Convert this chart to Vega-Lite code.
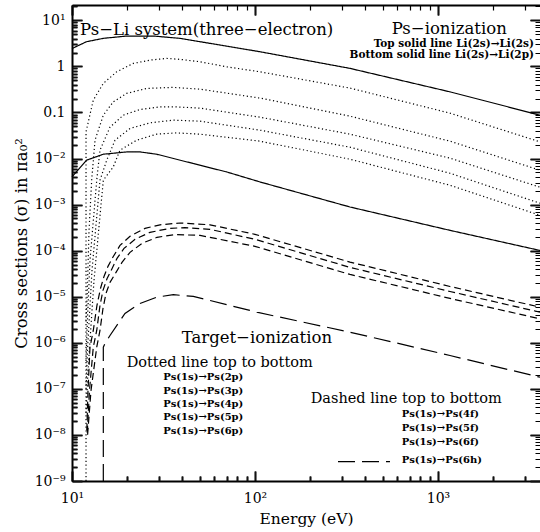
{
  "$schema": "https://vega.github.io/schema/vega-lite/v6.json",
  "width": 468,
  "height": 476,
  "autosize": {"type": "none"},
  "padding": {"left": 72, "top": 5, "right": 0, "bottom": 51},
  "background": "white",
  "config": {"view": {"stroke": null}},
  "datasets": {
    "curves": [
      {"series": "Li(2s)→Li(2s)", "family": "Ps-ionization", "i": 0, "E": 10, "sigma": 2.44},
      {"series": "Li(2s)→Li(2s)", "family": "Ps-ionization", "i": 1, "E": 12.0, "sigma": 3.43},
      {"series": "Li(2s)→Li(2s)", "family": "Ps-ionization", "i": 2, "E": 14.83, "sigma": 4.06},
      {"series": "Li(2s)→Li(2s)", "family": "Ps-ionization", "i": 3, "E": 19.9, "sigma": 4.56},
      {"series": "Li(2s)→Li(2s)", "family": "Ps-ionization", "i": 4, "E": 27.82, "sigma": 4.56},
      {"series": "Li(2s)→Li(2s)", "family": "Ps-ionization", "i": 5, "E": 38.92, "sigma": 4.06},
      {"series": "Li(2s)→Li(2s)", "family": "Ps-ionization", "i": 6, "E": 56.77, "sigma": 3.16},
      {"series": "Li(2s)→Li(2s)", "family": "Ps-ionization", "i": 7, "E": 106.5, "sigma": 2.08},
      {"series": "Li(2s)→Li(2s)", "family": "Ps-ionization", "i": 8, "E": 330.4, "sigma": 0.905},
      {"series": "Li(2s)→Li(2s)", "family": "Ps-ionization", "i": 9, "E": 1163, "sigma": 0.28},
      {"series": "Li(2s)→Li(2s)", "family": "Ps-ionization", "i": 10, "E": 3610, "sigma": 0.0873},

      {"series": "Li(2s)→Li(2p)", "family": "Ps-ionization", "i": 0, "E": 10, "sigma": 0.00398},
      {"series": "Li(2s)→Li(2p)", "family": "Ps-ionization", "i": 1, "E": 12.0, "sigma": 0.00918},
      {"series": "Li(2s)→Li(2p)", "family": "Ps-ionization", "i": 2, "E": 14.83, "sigma": 0.0124},
      {"series": "Li(2s)→Li(2p)", "family": "Ps-ionization", "i": 3, "E": 19.9, "sigma": 0.0139},
      {"series": "Li(2s)→Li(2p)", "family": "Ps-ionization", "i": 4, "E": 23.53, "sigma": 0.0139},
      {"series": "Li(2s)→Li(2p)", "family": "Ps-ionization", "i": 5, "E": 29.04, "sigma": 0.0124},
      {"series": "Li(2s)→Li(2p)", "family": "Ps-ionization", "i": 6, "E": 46.01, "sigma": 0.00778},
      {"series": "Li(2s)→Li(2p)", "family": "Ps-ionization", "i": 7, "E": 70.04, "sigma": 0.00511},
      {"series": "Li(2s)→Li(2p)", "family": "Ps-ionization", "i": 8, "E": 106.5, "sigma": 0.0031},
      {"series": "Li(2s)→Li(2p)", "family": "Ps-ionization", "i": 9, "E": 330.4, "sigma": 0.000887},
      {"series": "Li(2s)→Li(2p)", "family": "Ps-ionization", "i": 10, "E": 1163, "sigma": 0.000276},
      {"series": "Li(2s)→Li(2p)", "family": "Ps-ionization", "i": 11, "E": 3610, "sigma": 0.000101},

      {"series": "Ps(1s)→Ps(2p)", "family": "np", "i": 0, "E": 11.93, "sigma": 1e-9},
      {"series": "Ps(1s)→Ps(2p)", "family": "np", "i": 1, "E": 11.93, "sigma": 0.0379},
      {"series": "Ps(1s)→Ps(2p)", "family": "np", "i": 2, "E": 13.07, "sigma": 0.185},
      {"series": "Ps(1s)→Ps(2p)", "family": "np", "i": 3, "E": 14.83, "sigma": 0.427},
      {"series": "Ps(1s)→Ps(2p)", "family": "np", "i": 4, "E": 17.55, "sigma": 0.763},
      {"series": "Ps(1s)→Ps(2p)", "family": "np", "i": 5, "E": 21.63, "sigma": 1.16},
      {"series": "Ps(1s)→Ps(2p)", "family": "np", "i": 6, "E": 26.69, "sigma": 1.37},
      {"series": "Ps(1s)→Ps(2p)", "family": "np", "i": 7, "E": 32.93, "sigma": 1.49},
      {"series": "Ps(1s)→Ps(2p)", "family": "np", "i": 8, "E": 38.92, "sigma": 1.42},
      {"series": "Ps(1s)→Ps(2p)", "family": "np", "i": 9, "E": 50.06, "sigma": 1.26},
      {"series": "Ps(1s)→Ps(2p)", "family": "np", "i": 10, "E": 70.04, "sigma": 0.98},
      {"series": "Ps(1s)→Ps(2p)", "family": "np", "i": 11, "E": 106.5, "sigma": 0.763},
      {"series": "Ps(1s)→Ps(2p)", "family": "np", "i": 12, "E": 330.4, "sigma": 0.338},
      {"series": "Ps(1s)→Ps(2p)", "family": "np", "i": 13, "E": 1163, "sigma": 0.0965},
      {"series": "Ps(1s)→Ps(2p)", "family": "np", "i": 14, "E": 3610, "sigma": 0.023},

      {"series": "Ps(1s)→Ps(3p)", "family": "np", "i": 0, "E": 11.93, "sigma": 3e-6},
      {"series": "Ps(1s)→Ps(3p)", "family": "np", "i": 1, "E": 12.08, "sigma": 8.31e-6},
      {"series": "Ps(1s)→Ps(3p)", "family": "np", "i": 2, "E": 12.39, "sigma": 0.000276},
      {"series": "Ps(1s)→Ps(3p)", "family": "np", "i": 3, "E": 12.81, "sigma": 0.00338},
      {"series": "Ps(1s)→Ps(3p)", "family": "np", "i": 4, "E": 13.36, "sigma": 0.025},
      {"series": "Ps(1s)→Ps(3p)", "family": "np", "i": 5, "E": 14.83, "sigma": 0.0873},
      {"series": "Ps(1s)→Ps(3p)", "family": "np", "i": 6, "E": 16.81, "sigma": 0.170},
      {"series": "Ps(1s)→Ps(3p)", "family": "np", "i": 7, "E": 19.90, "sigma": 0.259},
      {"series": "Ps(1s)→Ps(3p)", "family": "np", "i": 8, "E": 25.60, "sigma": 0.332},
      {"series": "Ps(1s)→Ps(3p)", "family": "np", "i": 9, "E": 35.80, "sigma": 0.350},
      {"series": "Ps(1s)→Ps(3p)", "family": "np", "i": 10, "E": 50.06, "sigma": 0.321},
      {"series": "Ps(1s)→Ps(3p)", "family": "np", "i": 11, "E": 106.5, "sigma": 0.205},
      {"series": "Ps(1s)→Ps(3p)", "family": "np", "i": 12, "E": 330.4, "sigma": 0.0831},
      {"series": "Ps(1s)→Ps(3p)", "family": "np", "i": 13, "E": 1163, "sigma": 0.0238},
      {"series": "Ps(1s)→Ps(3p)", "family": "np", "i": 14, "E": 3610, "sigma": 0.00557},

      {"series": "Ps(1s)→Ps(4p)", "family": "np", "i": 0, "E": 11.93, "sigma": 4e-7},
      {"series": "Ps(1s)→Ps(4p)", "family": "np", "i": 1, "E": 12.08, "sigma": 1.85e-6},
      {"series": "Ps(1s)→Ps(4p)", "family": "np", "i": 2, "E": 12.54, "sigma": 6.15e-5},
      {"series": "Ps(1s)→Ps(4p)", "family": "np", "i": 3, "E": 13.65, "sigma": 0.00338},
      {"series": "Ps(1s)→Ps(4p)", "family": "np", "i": 4, "E": 14.22, "sigma": 0.0152},
      {"series": "Ps(1s)→Ps(4p)", "family": "np", "i": 5, "E": 16.13, "sigma": 0.0479},
      {"series": "Ps(1s)→Ps(4p)", "family": "np", "i": 6, "E": 19.07, "sigma": 0.0873},
      {"series": "Ps(1s)→Ps(4p)", "family": "np", "i": 7, "E": 23.53, "sigma": 0.116},
      {"series": "Ps(1s)→Ps(4p)", "family": "np", "i": 8, "E": 30.27, "sigma": 0.132},
      {"series": "Ps(1s)→Ps(4p)", "family": "np", "i": 9, "E": 37.33, "sigma": 0.132},
      {"series": "Ps(1s)→Ps(4p)", "family": "np", "i": 10, "E": 50.06, "sigma": 0.124},
      {"series": "Ps(1s)→Ps(4p)", "family": "np", "i": 11, "E": 106.5, "sigma": 0.079},
      {"series": "Ps(1s)→Ps(4p)", "family": "np", "i": 12, "E": 330.4, "sigma": 0.0338},
      {"series": "Ps(1s)→Ps(4p)", "family": "np", "i": 13, "E": 1163, "sigma": 0.0102},
      {"series": "Ps(1s)→Ps(4p)", "family": "np", "i": 14, "E": 3610, "sigma": 0.00238},

      {"series": "Ps(1s)→Ps(5p)", "family": "np", "i": 0, "E": 11.93, "sigma": 1e-7},
      {"series": "Ps(1s)→Ps(5p)", "family": "np", "i": 1, "E": 12.15, "sigma": 6.8e-7},
      {"series": "Ps(1s)→Ps(5p)", "family": "np", "i": 2, "E": 12.86, "sigma": 3.73e-5},
      {"series": "Ps(1s)→Ps(5p)", "family": "np", "i": 3, "E": 14.22, "sigma": 0.00338},
      {"series": "Ps(1s)→Ps(5p)", "family": "np", "i": 4, "E": 15.48, "sigma": 0.00918},
      {"series": "Ps(1s)→Ps(5p)", "family": "np", "i": 5, "E": 17.18, "sigma": 0.025},
      {"series": "Ps(1s)→Ps(5p)", "family": "np", "i": 6, "E": 20.75, "sigma": 0.0449},
      {"series": "Ps(1s)→Ps(5p)", "family": "np", "i": 7, "E": 26.69, "sigma": 0.0594},
      {"series": "Ps(1s)→Ps(5p)", "family": "np", "i": 8, "E": 35.80, "sigma": 0.068},
      {"series": "Ps(1s)→Ps(5p)", "family": "np", "i": 9, "E": 50.06, "sigma": 0.0647},
      {"series": "Ps(1s)→Ps(5p)", "family": "np", "i": 10, "E": 106.5, "sigma": 0.0412},
      {"series": "Ps(1s)→Ps(5p)", "family": "np", "i": 11, "E": 330.4, "sigma": 0.0176},
      {"series": "Ps(1s)→Ps(5p)", "family": "np", "i": 12, "E": 1163, "sigma": 0.00479},
      {"series": "Ps(1s)→Ps(5p)", "family": "np", "i": 13, "E": 3610, "sigma": 0.00107},

      {"series": "Ps(1s)→Ps(6p)", "family": "np", "i": 0, "E": 11.93, "sigma": 3e-8},
      {"series": "Ps(1s)→Ps(6p)", "family": "np", "i": 1, "E": 12.23, "sigma": 2.5e-7},
      {"series": "Ps(1s)→Ps(6p)", "family": "np", "i": 2, "E": 13.19, "sigma": 2.26e-5},
      {"series": "Ps(1s)→Ps(6p)", "family": "np", "i": 3, "E": 14.83, "sigma": 0.00338},
      {"series": "Ps(1s)→Ps(6p)", "family": "np", "i": 4, "E": 16.81, "sigma": 0.00657},
      {"series": "Ps(1s)→Ps(6p)", "family": "np", "i": 5, "E": 18.29, "sigma": 0.0152},
      {"series": "Ps(1s)→Ps(6p)", "family": "np", "i": 6, "E": 22.57, "sigma": 0.025},
      {"series": "Ps(1s)→Ps(6p)", "family": "np", "i": 7, "E": 29.04, "sigma": 0.0338},
      {"series": "Ps(1s)→Ps(6p)", "family": "np", "i": 8, "E": 37.33, "sigma": 0.036},
      {"series": "Ps(1s)→Ps(6p)", "family": "np", "i": 9, "E": 50.06, "sigma": 0.0338},
      {"series": "Ps(1s)→Ps(6p)", "family": "np", "i": 10, "E": 106.5, "sigma": 0.0238},
      {"series": "Ps(1s)→Ps(6p)", "family": "np", "i": 11, "E": 330.4, "sigma": 0.00966},
      {"series": "Ps(1s)→Ps(6p)", "family": "np", "i": 12, "E": 1163, "sigma": 0.00263},
      {"series": "Ps(1s)→Ps(6p)", "family": "np", "i": 13, "E": 3610, "sigma": 0.000585},

      {"series": "Ps(1s)→Ps(4f)", "family": "nf", "i": 0, "E": 12.05, "sigma": 1.24e-8},
      {"series": "Ps(1s)→Ps(4f)", "family": "nf", "i": 1, "E": 12.23, "sigma": 9.18e-8},
      {"series": "Ps(1s)→Ps(4f)", "family": "nf", "i": 2, "E": 12.54, "sigma": 8.02e-7},
      {"series": "Ps(1s)→Ps(4f)", "family": "nf", "i": 3, "E": 13.07, "sigma": 1.85e-6},
      {"series": "Ps(1s)→Ps(4f)", "family": "nf", "i": 4, "E": 13.69, "sigma": 6.47e-6},
      {"series": "Ps(1s)→Ps(4f)", "family": "nf", "i": 5, "E": 14.31, "sigma": 1.51e-5},
      {"series": "Ps(1s)→Ps(4f)", "family": "nf", "i": 6, "E": 14.96, "sigma": 2.76e-5},
      {"series": "Ps(1s)→Ps(4f)", "family": "nf", "i": 7, "E": 15.73, "sigma": 4.56e-5},
      {"series": "Ps(1s)→Ps(4f)", "family": "nf", "i": 8, "E": 16.75, "sigma": 7.26e-5},
      {"series": "Ps(1s)→Ps(4f)", "family": "nf", "i": 9, "E": 18.29, "sigma": 0.000130},
      {"series": "Ps(1s)→Ps(4f)", "family": "nf", "i": 10, "E": 20.75, "sigma": 0.000205},
      {"series": "Ps(1s)→Ps(4f)", "family": "nf", "i": 11, "E": 25.06, "sigma": 0.000305},
      {"series": "Ps(1s)→Ps(4f)", "family": "nf", "i": 12, "E": 30.27, "sigma": 0.000364},
      {"series": "Ps(1s)→Ps(4f)", "family": "nf", "i": 13, "E": 38.92, "sigma": 0.000398},
      {"series": "Ps(1s)→Ps(4f)", "family": "nf", "i": 14, "E": 56.77, "sigma": 0.000364},
      {"series": "Ps(1s)→Ps(4f)", "family": "nf", "i": 15, "E": 100, "sigma": 0.000226},
      {"series": "Ps(1s)→Ps(4f)", "family": "nf", "i": 16, "E": 330.4, "sigma": 5.65e-5},
      {"series": "Ps(1s)→Ps(4f)", "family": "nf", "i": 17, "E": 1163, "sigma": 1.67e-5},
      {"series": "Ps(1s)→Ps(4f)", "family": "nf", "i": 18, "E": 3610, "sigma": 5.94e-6},

      {"series": "Ps(1s)→Ps(5f)", "family": "nf", "i": 0, "E": 12.11, "sigma": 1.12e-8},
      {"series": "Ps(1s)→Ps(5f)", "family": "nf", "i": 1, "E": 12.46, "sigma": 9.18e-8},
      {"series": "Ps(1s)→Ps(5f)", "family": "nf", "i": 2, "E": 13.07, "sigma": 8.02e-7},
      {"series": "Ps(1s)→Ps(5f)", "family": "nf", "i": 3, "E": 13.65, "sigma": 1.85e-6},
      {"series": "Ps(1s)→Ps(5f)", "family": "nf", "i": 4, "E": 14.22, "sigma": 6.47e-6},
      {"series": "Ps(1s)→Ps(5f)", "family": "nf", "i": 5, "E": 14.77, "sigma": 1.37e-5},
      {"series": "Ps(1s)→Ps(5f)", "family": "nf", "i": 6, "E": 15.53, "sigma": 2.46e-5},
      {"series": "Ps(1s)→Ps(5f)", "family": "nf", "i": 7, "E": 16.54, "sigma": 4.06e-5},
      {"series": "Ps(1s)→Ps(5f)", "family": "nf", "i": 8, "E": 17.62, "sigma": 6.80e-5},
      {"series": "Ps(1s)→Ps(5f)", "family": "nf", "i": 9, "E": 19.24, "sigma": 0.000112},
      {"series": "Ps(1s)→Ps(5f)", "family": "nf", "i": 10, "E": 22.10, "sigma": 0.000176},
      {"series": "Ps(1s)→Ps(5f)", "family": "nf", "i": 11, "E": 26.69, "sigma": 0.000250},
      {"series": "Ps(1s)→Ps(5f)", "family": "nf", "i": 12, "E": 34.32, "sigma": 0.000305},
      {"series": "Ps(1s)→Ps(5f)", "family": "nf", "i": 13, "E": 41.46, "sigma": 0.000316},
      {"series": "Ps(1s)→Ps(5f)", "family": "nf", "i": 14, "E": 56.77, "sigma": 0.000290},
      {"series": "Ps(1s)→Ps(5f)", "family": "nf", "i": 15, "E": 100, "sigma": 0.000176},
      {"series": "Ps(1s)→Ps(5f)", "family": "nf", "i": 16, "E": 330.4, "sigma": 4.34e-5},
      {"series": "Ps(1s)→Ps(5f)", "family": "nf", "i": 17, "E": 1163, "sigma": 1.30e-5},
      {"series": "Ps(1s)→Ps(5f)", "family": "nf", "i": 18, "E": 3610, "sigma": 4.62e-6},

      {"series": "Ps(1s)→Ps(6f)", "family": "nf", "i": 0, "E": 12.17, "sigma": 1.01e-8},
      {"series": "Ps(1s)→Ps(6f)", "family": "nf", "i": 1, "E": 12.70, "sigma": 9.18e-8},
      {"series": "Ps(1s)→Ps(6f)", "family": "nf", "i": 2, "E": 13.65, "sigma": 8.02e-7},
      {"series": "Ps(1s)→Ps(6f)", "family": "nf", "i": 3, "E": 14.22, "sigma": 1.85e-6},
      {"series": "Ps(1s)→Ps(6f)", "family": "nf", "i": 4, "E": 14.77, "sigma": 5.57e-6},
      {"series": "Ps(1s)→Ps(6f)", "family": "nf", "i": 5, "E": 15.34, "sigma": 1.18e-5},
      {"series": "Ps(1s)→Ps(6f)", "family": "nf", "i": 6, "E": 16.13, "sigma": 2.05e-5},
      {"series": "Ps(1s)→Ps(6f)", "family": "nf", "i": 7, "E": 17.40, "sigma": 3.37e-5},
      {"series": "Ps(1s)→Ps(6f)", "family": "nf", "i": 8, "E": 18.76, "sigma": 5.57e-5},
      {"series": "Ps(1s)→Ps(6f)", "family": "nf", "i": 9, "E": 20.75, "sigma": 9.18e-5},
      {"series": "Ps(1s)→Ps(6f)", "family": "nf", "i": 10, "E": 24.13, "sigma": 0.000144},
      {"series": "Ps(1s)→Ps(6f)", "family": "nf", "i": 11, "E": 29.14, "sigma": 0.000195},
      {"series": "Ps(1s)→Ps(6f)", "family": "nf", "i": 12, "E": 36.54, "sigma": 0.000223},
      {"series": "Ps(1s)→Ps(6f)", "family": "nf", "i": 13, "E": 50.06, "sigma": 0.000215},
      {"series": "Ps(1s)→Ps(6f)", "family": "nf", "i": 14, "E": 100, "sigma": 0.000124},
      {"series": "Ps(1s)→Ps(6f)", "family": "nf", "i": 15, "E": 330.4, "sigma": 3.05e-5},
      {"series": "Ps(1s)→Ps(6f)", "family": "nf", "i": 16, "E": 1163, "sigma": 9.18e-6},
      {"series": "Ps(1s)→Ps(6f)", "family": "nf", "i": 17, "E": 3610, "sigma": 3.32e-6},

      {"series": "Ps(1s)→Ps(6h)", "family": "nh", "i": 0, "E": 14.83, "sigma": 1e-9},
      {"series": "Ps(1s)→Ps(6h)", "family": "nh", "i": 1, "E": 14.83, "sigma": 8.02e-7},
      {"series": "Ps(1s)→Ps(6h)", "family": "nh", "i": 2, "E": 15.15, "sigma": 9.66e-7},
      {"series": "Ps(1s)→Ps(6h)", "family": "nh", "i": 3, "E": 16.13, "sigma": 1.44e-6},
      {"series": "Ps(1s)→Ps(6h)", "family": "nh", "i": 4, "E": 19.48, "sigma": 4.34e-6},
      {"series": "Ps(1s)→Ps(6h)", "family": "nh", "i": 5, "E": 23.53, "sigma": 7.15e-6},
      {"series": "Ps(1s)→Ps(6h)", "family": "nh", "i": 6, "E": 29.04, "sigma": 9.80e-6},
      {"series": "Ps(1s)→Ps(6h)", "family": "nh", "i": 7, "E": 35.80, "sigma": 1.105e-5},
      {"series": "Ps(1s)→Ps(6h)", "family": "nh", "i": 8, "E": 46.01, "sigma": 1.015e-5},
      {"series": "Ps(1s)→Ps(6h)", "family": "nh", "i": 9, "E": 56.77, "sigma": 8.31e-6},
      {"series": "Ps(1s)→Ps(6h)", "family": "nh", "i": 10, "E": 102.2, "sigma": 4.62e-6},
      {"series": "Ps(1s)→Ps(6h)", "family": "nh", "i": 11, "E": 330.4, "sigma": 1.70e-6},
      {"series": "Ps(1s)→Ps(6h)", "family": "nh", "i": 12, "E": 1163, "sigma": 5.30e-7},
      {"series": "Ps(1s)→Ps(6h)", "family": "nh", "i": 13, "E": 3610, "sigma": 1.79e-7}
    ]
  },
  "layer": [
    {
      "data": {"name": "curves"},
      "mark": {"type": "line", "color": "black", "strokeWidth": 1.2, "strokeCap": "butt"},
      "encoding": {
        "x": {
          "field": "E", "type": "quantitative",
          "scale": {"type": "log", "domain": [10, 3610], "nice": false},
          "axis": {
            "orient": "bottom", "domainColor": "#000000", "domainWidth": 2,
            "values": [10, 100, 1000],
            "grid": true, "gridColor": "#000000", "gridWidth": 1.2, "gridOpacity": 1, "gridDash": [10, 456, 10, 600],
            "ticks": true, "tickSize": -10, "tickColor": "#111111", "tickWidth": 2, "tickOpacity": 1,
            "labelExpr": "'10' + ['⁰','¹','²','³','⁴'][round(log(datum.value)/LN10)]",
            "labelFont": "DejaVu Serif", "labelFontSize": 14, "labelColor": "#000000",
            "labelPadding": 20, "labelBaseline": "top", "labelFlush": false,
            "title": "Energy (eV)", "titleFont": "DejaVu Serif", "titleFontSize": 15.5, "titleFontWeight": "normal", "titleColor": "#000000",
            "titleY": 37, "titleBaseline": "middle"
          }
        },
        "y": {
          "field": "sigma", "type": "quantitative",
          "scale": {"type": "log", "domain": [1e-9, 21.5], "nice": false},
          "axis": {
            "orient": "left", "domainColor": "#000000", "domainWidth": 2,
            "values": [1e-9, 1e-8, 1e-7, 1e-6, 1e-5, 1e-4, 0.001, 0.01, 0.1, 1, 10],
            "grid": true, "gridColor": "#000000", "gridWidth": 1.2, "gridOpacity": 1, "gridDash": [10, 448, 10, 600],
            "ticks": true, "tickSize": -10, "tickColor": "#111111", "tickWidth": 2, "tickOpacity": 1,
            "labelExpr": "round(log(datum.value)/LN10) == 1 ? '10¹' : round(log(datum.value)/LN10) == 0 ? '1' : round(log(datum.value)/LN10) == -1 ? '0.1' : '10⁻' + ['⁰','¹','²','³','⁴','⁵','⁶','⁷','⁸','⁹'][-round(log(datum.value)/LN10)]",
            "labelFont": "DejaVu Serif", "labelFontSize": 14, "labelColor": "#000000",
            "labelPadding": 17,
            "title": "Cross sections (σ) in πa₀²", "titleFont": "DejaVu Serif", "titleFontSize": 16.5, "titleFontWeight": "normal", "titleColor": "#000000",
            "titleX": -51, "titleBaseline": "middle"
          }
        },
        "detail": {"field": "series", "type": "nominal"},
        "order": {"field": "i", "type": "quantitative"},
        "strokeDash": {
          "field": "family", "type": "nominal", "legend": null,
          "scale": {"domain": ["Ps-ionization", "np", "nf", "nh"], "range": [[1, 0], [1.2, 2.6], [7, 4], [17, 7]]}
        }
      }
    },
    {
      "data": {"name": "curves"},
      "mark": {"type": "line", "strokeOpacity": 0},
      "encoding": {
        "x": {
          "field": "E", "type": "quantitative",
          "scale": {"type": "log", "domain": [10, 3610], "nice": false},
          "axis": {
            "orient": "bottom", "domain": false, "labels": false, "title": null,
            "values": [20,30,40,50,60,70,80,90,200,300,400,500,600,700,800,900,2000,3000],
            "grid": true, "gridColor": "#000000", "gridWidth": 1.2, "gridOpacity": 1, "gridDash": [5, 466, 5, 600],
            "ticks": true, "tickSize": -5, "tickColor": "#111111", "tickWidth": 2, "tickOpacity": 1
          }
        },
        "y": {
          "field": "sigma", "type": "quantitative",
          "scale": {"type": "log", "domain": [1e-9, 21.5], "nice": false},
          "axis": {
            "orient": "left", "domain": false, "labels": false, "title": null,
            "values": [2e-9,3e-9,4e-9,5e-9,6e-9,7e-9,8e-9,9e-9,2e-8,3e-8,4e-8,5e-8,6e-8,7e-8,8e-8,9e-8,2e-7,3e-7,4e-7,5e-7,6e-7,7e-7,8e-7,9e-7,2e-6,3e-6,4e-6,5e-6,6e-6,7e-6,8e-6,9e-6,2e-5,3e-5,4e-5,5e-5,6e-5,7e-5,8e-5,9e-5,2e-4,3e-4,4e-4,5e-4,6e-4,7e-4,8e-4,9e-4,0.002,0.003,0.004,0.005,0.006,0.007,0.008,0.009,0.02,0.03,0.04,0.05,0.06,0.07,0.08,0.09,0.2,0.3,0.4,0.5,0.6,0.7,0.8,0.9,2,3,4,5,6,7,8,9,20],
            "grid": true, "gridColor": "#000000", "gridWidth": 1.2, "gridOpacity": 1, "gridDash": [5, 458, 5, 600],
            "ticks": true, "tickSize": -5, "tickColor": "#111111", "tickWidth": 2, "tickOpacity": 1
          }
        },
        "detail": {"field": "series", "type": "nominal"},
        "order": {"field": "i", "type": "quantitative"}
      }
    },
    {
      "data": {"name": "curves"},
      "mark": {"type": "line", "strokeOpacity": 0},
      "encoding": {
        "x": {
          "field": "E", "type": "quantitative",
          "scale": {"type": "log", "domain": [10, 3610], "nice": false},
          "axis": {
            "orient": "top", "grid": false, "domainColor": "#000000", "domainWidth": 2, "labels": false, "title": null,
            "values": [10, 100, 1000],
            "ticks": true, "tickSize": -10, "tickColor": "#111111", "tickWidth": 2, "tickOpacity": 1
          }
        },
        "y": {
          "field": "sigma", "type": "quantitative",
          "scale": {"type": "log", "domain": [1e-9, 21.5], "nice": false},
          "axis": {
            "orient": "right", "grid": false, "domain": false, "labels": false, "title": null,
            "values": [1e-9, 1e-8, 1e-7, 1e-6, 1e-5, 1e-4, 0.001, 0.01, 0.1, 1, 10],
            "ticks": true, "tickSize": -10, "tickColor": "#111111", "tickWidth": 2, "tickOpacity": 1
          }
        },
        "detail": {"field": "series", "type": "nominal"},
        "order": {"field": "i", "type": "quantitative"}
      }
    },
    {
      "data": {"values": [{"E": 284.2, "sigma": 2.63e-9}, {"E": 546.7, "sigma": 2.63e-9}]},
      "mark": {"type": "line", "color": "black", "strokeWidth": 1.2, "strokeDash": [17, 7], "strokeCap": "butt"},
      "encoding": {
        "x": {"field": "E", "type": "quantitative", "scale": {"type": "log", "domain": [10, 3610], "nice": false}, "axis": null},
        "y": {"field": "sigma", "type": "quantitative", "scale": {"type": "log", "domain": [1e-9, 21.5], "nice": false}, "axis": null}
      }
    },
    {
      "data": {"values": [
        {"label": "Ps−Li system(three−electron)", "E": 11.06, "sigma": 6.15},
        {"label": "Ps−ionization", "E": 558.5, "sigma": 6.63},
        {"label": "Target−ionization", "E": 39.77, "sigma": 1.24e-6}
      ]},
      "mark": {"type": "text", "align": "left", "baseline": "middle", "font": "DejaVu Serif", "fontSize": 16.5, "color": "black"},
      "encoding": {
        "x": {"field": "E", "type": "quantitative", "scale": {"type": "log", "domain": [10, 3610], "nice": false}, "axis": null},
        "y": {"field": "sigma", "type": "quantitative", "scale": {"type": "log", "domain": [1e-9, 21.5], "nice": false}, "axis": null},
        "text": {"field": "label"}
      }
    },
    {
      "data": {"values": [
        {"label": "Dotted line top to bottom", "E": 19.90, "sigma": 3.73e-7},
        {"label": "Dashed line top to bottom", "E": 201.6, "sigma": 6.15e-8}
      ]},
      "mark": {"type": "text", "align": "left", "baseline": "middle", "font": "DejaVu Serif", "fontSize": 14.5, "color": "black"},
      "encoding": {
        "x": {"field": "E", "type": "quantitative", "scale": {"type": "log", "domain": [10, 3610], "nice": false}, "axis": null},
        "y": {"field": "sigma", "type": "quantitative", "scale": {"type": "log", "domain": [1e-9, 21.5], "nice": false}, "axis": null},
        "text": {"field": "label"}
      }
    },
    {
      "data": {"values": [
        {"label": "Top solid line Li(2s)→Li(2s)", "E": 3347, "sigma": 3.13},
        {"label": "Bottom solid line Li(2s)→Li(2p)", "E": 3347, "sigma": 1.805}
      ]},
      "mark": {"type": "text", "align": "right", "baseline": "middle", "font": "DejaVu Serif", "fontSize": 10.5, "fontWeight": "bold", "color": "black"},
      "encoding": {
        "x": {"field": "E", "type": "quantitative", "scale": {"type": "log", "domain": [10, 3610], "nice": false}, "axis": null},
        "y": {"field": "sigma", "type": "quantitative", "scale": {"type": "log", "domain": [1e-9, 21.5], "nice": false}, "axis": null},
        "text": {"field": "label"}
      }
    },
    {
      "data": {"values": [
        {"label": "Ps(1s)→Ps(2p)", "E": 31.5, "sigma": 1.79e-7},
        {"label": "Ps(1s)→Ps(3p)", "E": 31.5, "sigma": 9.18e-8},
        {"label": "Ps(1s)→Ps(4p)", "E": 31.5, "sigma": 4.72e-8},
        {"label": "Ps(1s)→Ps(5p)", "E": 31.5, "sigma": 2.41e-8},
        {"label": "Ps(1s)→Ps(6p)", "E": 31.5, "sigma": 1.22e-8},
        {"label": "Ps(1s)→Ps(4f)", "E": 633, "sigma": 2.90e-8},
        {"label": "Ps(1s)→Ps(5f)", "E": 633, "sigma": 1.44e-8},
        {"label": "Ps(1s)→Ps(6f)", "E": 633, "sigma": 7.15e-9},
        {"label": "Ps(1s)→Ps(6h)", "E": 633, "sigma": 2.90e-9}
      ]},
      "mark": {"type": "text", "align": "left", "baseline": "middle", "font": "DejaVu Serif", "fontSize": 10, "fontWeight": "bold", "color": "black"},
      "encoding": {
        "x": {"field": "E", "type": "quantitative", "scale": {"type": "log", "domain": [10, 3610], "nice": false}, "axis": null},
        "y": {"field": "sigma", "type": "quantitative", "scale": {"type": "log", "domain": [1e-9, 21.5], "nice": false}, "axis": null},
        "text": {"field": "label"}
      }
    }
  ],
  "resolve": {"axis": {"x": "independent", "y": "independent"}}
}
